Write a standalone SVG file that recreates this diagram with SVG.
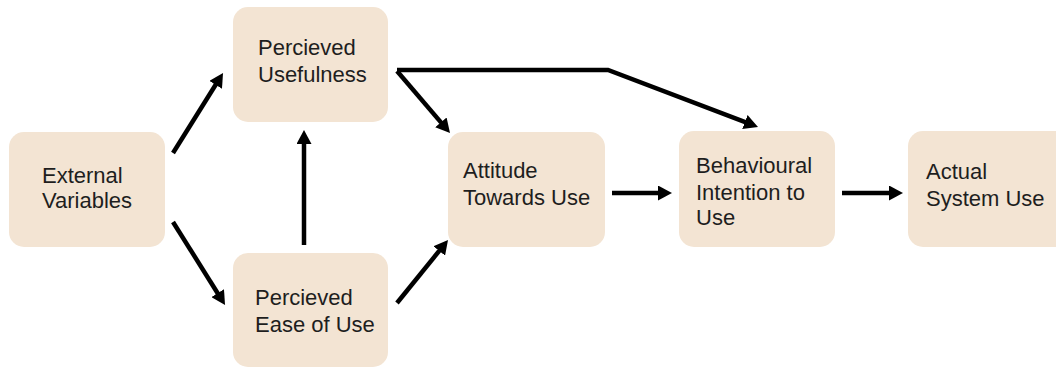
<svg xmlns="http://www.w3.org/2000/svg" width="1056" height="371" viewBox="0 0 1056 371">
<style>
.box{fill:#F3E4D3;}
.t{font-family:"Liberation Sans",Arial,sans-serif;font-size:22px;fill:#1e1e1e;}
.c{stroke:#000;stroke-width:4.5;fill:none;marker-end:url(#ah);}
</style>
<defs>
<marker id="ah" markerUnits="userSpaceOnUse" markerWidth="14" markerHeight="15" refX="6" refY="7.5" orient="auto">
<path d="M0,0 L14,7.5 L0,15 z" fill="#000"/>
</marker>
</defs>
<rect width="1056" height="371" fill="#fff"/>
<g id="external">
<rect class="box" x="9" y="132" width="156" height="115" rx="15"/>
<text class="t" x="42" y="183">External</text>
<text class="t" x="42" y="208">Variables</text>
</g>
<g id="usefulness">
<rect class="box" x="233" y="7" width="155" height="115" rx="15"/>
<text class="t" x="258" y="55">Percieved</text>
<text class="t" x="258" y="82">Usefulness</text>
</g>
<g id="ease">
<rect class="box" x="233" y="253" width="155" height="114" rx="15"/>
<text class="t" x="255" y="305">Percieved</text>
<text class="t" x="255" y="332">Ease of Use</text>
</g>
<g id="attitude">
<rect class="box" x="448" y="132" width="157" height="115" rx="15"/>
<text class="t" x="463" y="178">Attitude</text>
<text class="t" x="463" y="205">Towards Use</text>
</g>
<g id="intention">
<rect class="box" x="679" y="131" width="156" height="116" rx="15"/>
<text class="t" x="696" y="173">Behavioural</text>
<text class="t" x="696" y="200">Intention to</text>
<text class="t" x="696" y="225">Use</text>
</g>
<g id="actual">
<rect class="box" x="908" y="131" width="162" height="116" rx="15"/>
<text class="t" x="926" y="179">Actual</text>
<text class="t" x="926" y="206">System Use</text>
</g>
<g id="connectors">
<line class="c" x1="173" y1="153" x2="218.8" y2="79.8"/>
<line class="c" x1="173" y1="222" x2="220.8" y2="298.2"/>
<line class="c" x1="304" y1="245" x2="304" y2="138"/>
<line class="c" x1="397" y1="71" x2="444.8" y2="126.9"/>
<polyline class="c" points="397,70 608,70 750.5,124.2"/>
<line class="c" x1="397" y1="303" x2="443" y2="246.2"/>
<line class="c" x1="612" y1="193" x2="664" y2="193"/>
<line class="c" x1="842" y1="193" x2="895" y2="193"/>
</g>
</svg>
